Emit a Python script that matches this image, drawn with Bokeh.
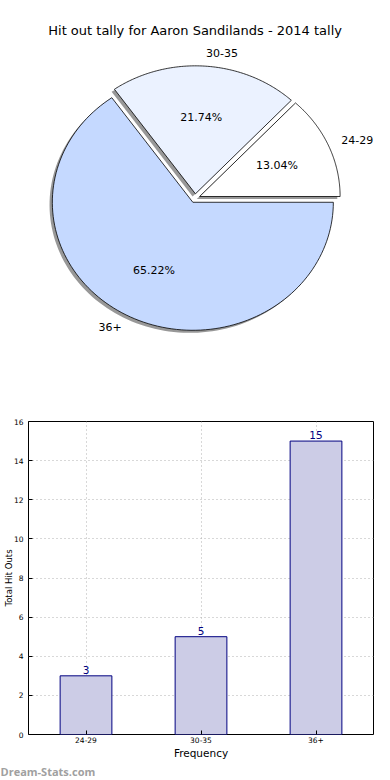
import numpy as np
from bokeh.plotting import figure
from bokeh.layouts import column
from bokeh.models import Range1d, Label, FactorRange, SingleIntervalTicker, Title
from bokeh.core.properties import value
from bokeh.embed import file_html
from bokeh.resources import INLINE

title_text = "Hit out tally for Aaron Sandilands - 2014 tally"
categories = ["24-29", "30-35", "36+"]
counts = [3, 5, 15]
pie_colors = ["#ffffff", "#ebf2ff", "#c5d9ff"]
y_label = "Total Hit Outs"
x_label = "Frequency"
watermark = "Dream-Stats.com"

FONT = value("DejaVu Sans")

W = 390
BL, BR = 28, 17            # frame borders shared by both figures (column aligns frames)
FL, FR = BL, W - BR        # frame left / right in page pixels

# ---------------- Pie (data units = pixels, so aspect is 1:1) ----------------
total = float(sum(counts))
fracs = [c / total for c in counts]
explode = 0.035

PIE_H = 400
CX, CY, RX, RY = 194.6, 197.8, 140.5, 128.0
p1 = figure(width=W, height=PIE_H, x_range=Range1d(FL - CX, FR - CX),
            y_range=Range1d(-(PIE_H - CY), CY),
            output_backend="svg", toolbar_location=None,
            min_border_left=BL, min_border_right=BR,
            min_border_top=0, min_border_bottom=0,
            title=None, x_axis_location=None, y_axis_location=None)
p1.grid.visible = False
p1.outline_line_color = None

wx, wy, shx, shy = [], [], [], []
lab_x, lab_y, lab_align, pct_x, pct_y, pct_txt = [], [], [], [], [], []
start = 0.0
for f in fracs:
    a0 = 2 * np.pi * start
    a1 = 2 * np.pi * (start + f)
    mid = 0.5 * (a0 + a1)
    dx, dy = explode * np.cos(mid), explode * np.sin(mid)
    t = np.linspace(a0, a1, 120)
    ux = np.concatenate([[dx], dx + np.cos(t), [dx]])
    uy = np.concatenate([[dy], dy + np.sin(t), [dy]])
    wx.append(list(ux * RX)); wy.append(list(uy * RY))
    shx.append(list((ux - 0.02) * RX)); shy.append(list((uy - 0.02) * RY))
    lab_x.append((dx + 1.1 * np.cos(mid)) * RX)
    lab_y.append((dy + 1.1 * np.sin(mid)) * RY)
    lab_align.append("left" if np.cos(mid) > 0 else "right")
    pct_x.append((dx + 0.6 * np.cos(mid)) * RX)
    pct_y.append((dy + 0.6 * np.sin(mid)) * RY)
    pct_txt.append("%.2f%%" % (f * 100))
    start += f

p1.patches(shx, shy, fill_color="#444444", fill_alpha=0.55, line_color=None)
p1.patches(wx, wy, fill_color=pie_colors, line_color="black", line_width=0.8)

p1.text(x=lab_x, y=lab_y, text=categories, text_align=lab_align,
        text_baseline="middle", text_font=FONT, text_font_size="11px",
        text_color="black")
p1.text(x=pct_x, y=pct_y, text=pct_txt, text_align="center",
        text_baseline="middle", text_font=FONT, text_font_size="11px",
        text_color="black")

p1.add_layout(Label(x=0.0, y=CY - 30, text=title_text, text_align="center",
                    text_baseline="middle", text_font="DejaVu Sans",
                    text_font_size="13px", text_color="black"))

# ---------------- Bar ----------------
BAR_H = 378
p2 = figure(width=W, height=BAR_H, x_range=FactorRange(*categories),
            y_range=Range1d(0, 16), output_backend="svg",
            toolbar_location=None, title=None,
            min_border_top=21, min_border_bottom=38,
            min_border_left=BL, min_border_right=BR)
p2.vbar(x=categories, top=counts, width=0.45, fill_color="#ccccE6",
        line_color="#000080", line_width=1)
p2.text(x=categories, y=counts, text=[str(c) for c in counts],
        text_align="center", text_baseline="bottom", y_offset=-2,
        text_font=FONT, text_font_size="10.5px", text_color="#000080")

p2.outline_line_color = "black"
p2.outline_line_width = 1
p2.yaxis.ticker = SingleIntervalTicker(interval=2)
for ax in (p2.xaxis, p2.yaxis):
    ax.axis_line_color = None
    ax.major_tick_in = 4
    ax.major_tick_out = 0
    ax.minor_tick_line_color = None
    ax.major_tick_line_color = "black"
    ax.major_label_text_font = "DejaVu Sans"
    ax.major_label_text_font_size = "7.5px"
    ax.major_label_text_color = "black"
    ax.axis_label_text_font = "DejaVu Sans"
    ax.axis_label_text_font_style = "normal"
    ax.axis_label_text_color = "black"
p2.yaxis.major_label_standoff = 1
p2.yaxis.axis_label = y_label
p2.yaxis.axis_label_text_font_size = "8.5px"
p2.yaxis.axis_label_standoff = -3
p2.xaxis.major_label_standoff = 2
p2.xaxis.axis_label = x_label
p2.xaxis.axis_label_text_font_size = "10.5px"
p2.xaxis.axis_label_standoff = 1

p2.grid.grid_line_color = "#b0b0b0"
p2.grid.grid_line_dash = "1 3"
p2.grid.grid_line_width = 1

p2.add_layout(Title(text=watermark, align="left", offset=-FL, standoff=0,
                    text_font="Open Sans", text_font_style="bold",
                    text_font_size="11px", text_color="#a0a0a0"), "below")

layout = column(p1, p2, spacing=0)
open("out.html", "w").write(file_html(layout, INLINE))
